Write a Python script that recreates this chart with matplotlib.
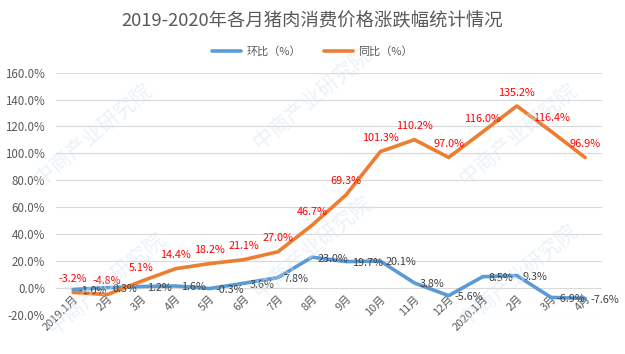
import matplotlib
matplotlib.use("Agg")
import matplotlib.pyplot as plt
from matplotlib.ticker import FuncFormatter

plt.rcParams['font.family'] = ['Noto Sans CJK SC', 'DejaVu Sans']

categories = ["2019.1月", "2月", "3月", "4月", "5月", "6月", "7月", "8月", "9月", "10月",
              "11月", "12月", "2020.1月", "2月", "3月", "4月"]
mom = [-1.0, 0.3, 1.2, 1.6, -0.3, 3.6, 7.8, 23.0, 19.7, 20.1, 3.8, -5.6, 8.5, 9.3, -6.9, -7.6]
yoy = [-3.2, -4.8, 5.1, 14.4, 18.2, 21.1, 27.0, 46.7, 69.3, 101.3, 110.2, 97.0, 116.0, 135.2, 116.4, 96.9]
yticks = [-20, 0, 20, 40, 60, 80, 100, 120, 140, 160]
title = "2019-2020年各月猪肉消费价格涨跌幅统计情况"
series_names = ["环比（%）", "同比（%）"]

blue = "#5B9BD5"
orange = "#ED7D31"
gray = "#595959"

fig = plt.figure(figsize=(6.25, 3.54), dpi=100)
ax = fig.add_axes([0.0896, 0.11, 0.874, 0.685])

# faint watermarks
for (wx, wy) in [(0.15, 0.62), (0.50, 0.72), (0.50, 0.30), (0.83, 0.62), (0.83, 0.22), (0.17, 0.20)]:
    fig.text(wx, wy, "中商产业研究院", fontsize=15, color="#D6E6F2", alpha=0.5,
             rotation=40, ha="center", va="center", zorder=0)

x = list(range(len(categories)))
ax.plot(x, mom, color=blue, lw=2.6, label=series_names[0], solid_capstyle="round", zorder=3)
ax.plot(x, yoy, color=orange, lw=2.6, label=series_names[1], solid_capstyle="round", zorder=3)

for xi, v in zip(x, yoy):
    ax.annotate(f"{v:.1f}%", (xi, v), xytext=(0, 6), textcoords="offset points",
                ha="center", va="bottom", fontsize=7.8, color="#FF0000", zorder=4)
for xi, v in zip(x, mom):
    ax.annotate(f"{v:.1f}%", (xi, v), xytext=(4, -1), textcoords="offset points",
                ha="left", va="center", fontsize=7.8, color="#404040", zorder=4)

ax.set_xlim(-0.5, len(categories) - 0.5)
ax.set_ylim(-20, 160)
ax.set_yticks(yticks)
ax.yaxis.set_major_formatter(FuncFormatter(lambda v, p: f"{v:.1f}%"))
ax.grid(axis="y", color="#D9D9D9", lw=0.8)
ax.set_axisbelow(True)
for s in ["top", "right", "left"]:
    ax.spines[s].set_visible(False)
ax.spines["bottom"].set_position(("data", 0))
ax.spines["bottom"].set_color("none")
ax.set_xticks(x)
ax.set_xticklabels(categories, rotation=45, ha="right", rotation_mode="anchor")
ax.tick_params(axis="x", length=0, pad=4, labelsize=8, labelcolor=gray)
ax.tick_params(axis="y", length=0, pad=8, labelsize=8.3, labelcolor=gray)
ax.patch.set_alpha(0)

fig.text(0.5, 0.94, title, ha="center", va="center", fontsize=13.2, color=gray)
fig.legend(loc="center", bbox_to_anchor=(0.5, 0.855), ncol=2, frameon=False,
           fontsize=8, labelcolor=gray, handlelength=2.6, columnspacing=2.0, handletextpad=0.5)

fig.savefig("out.png", dpi=100)
